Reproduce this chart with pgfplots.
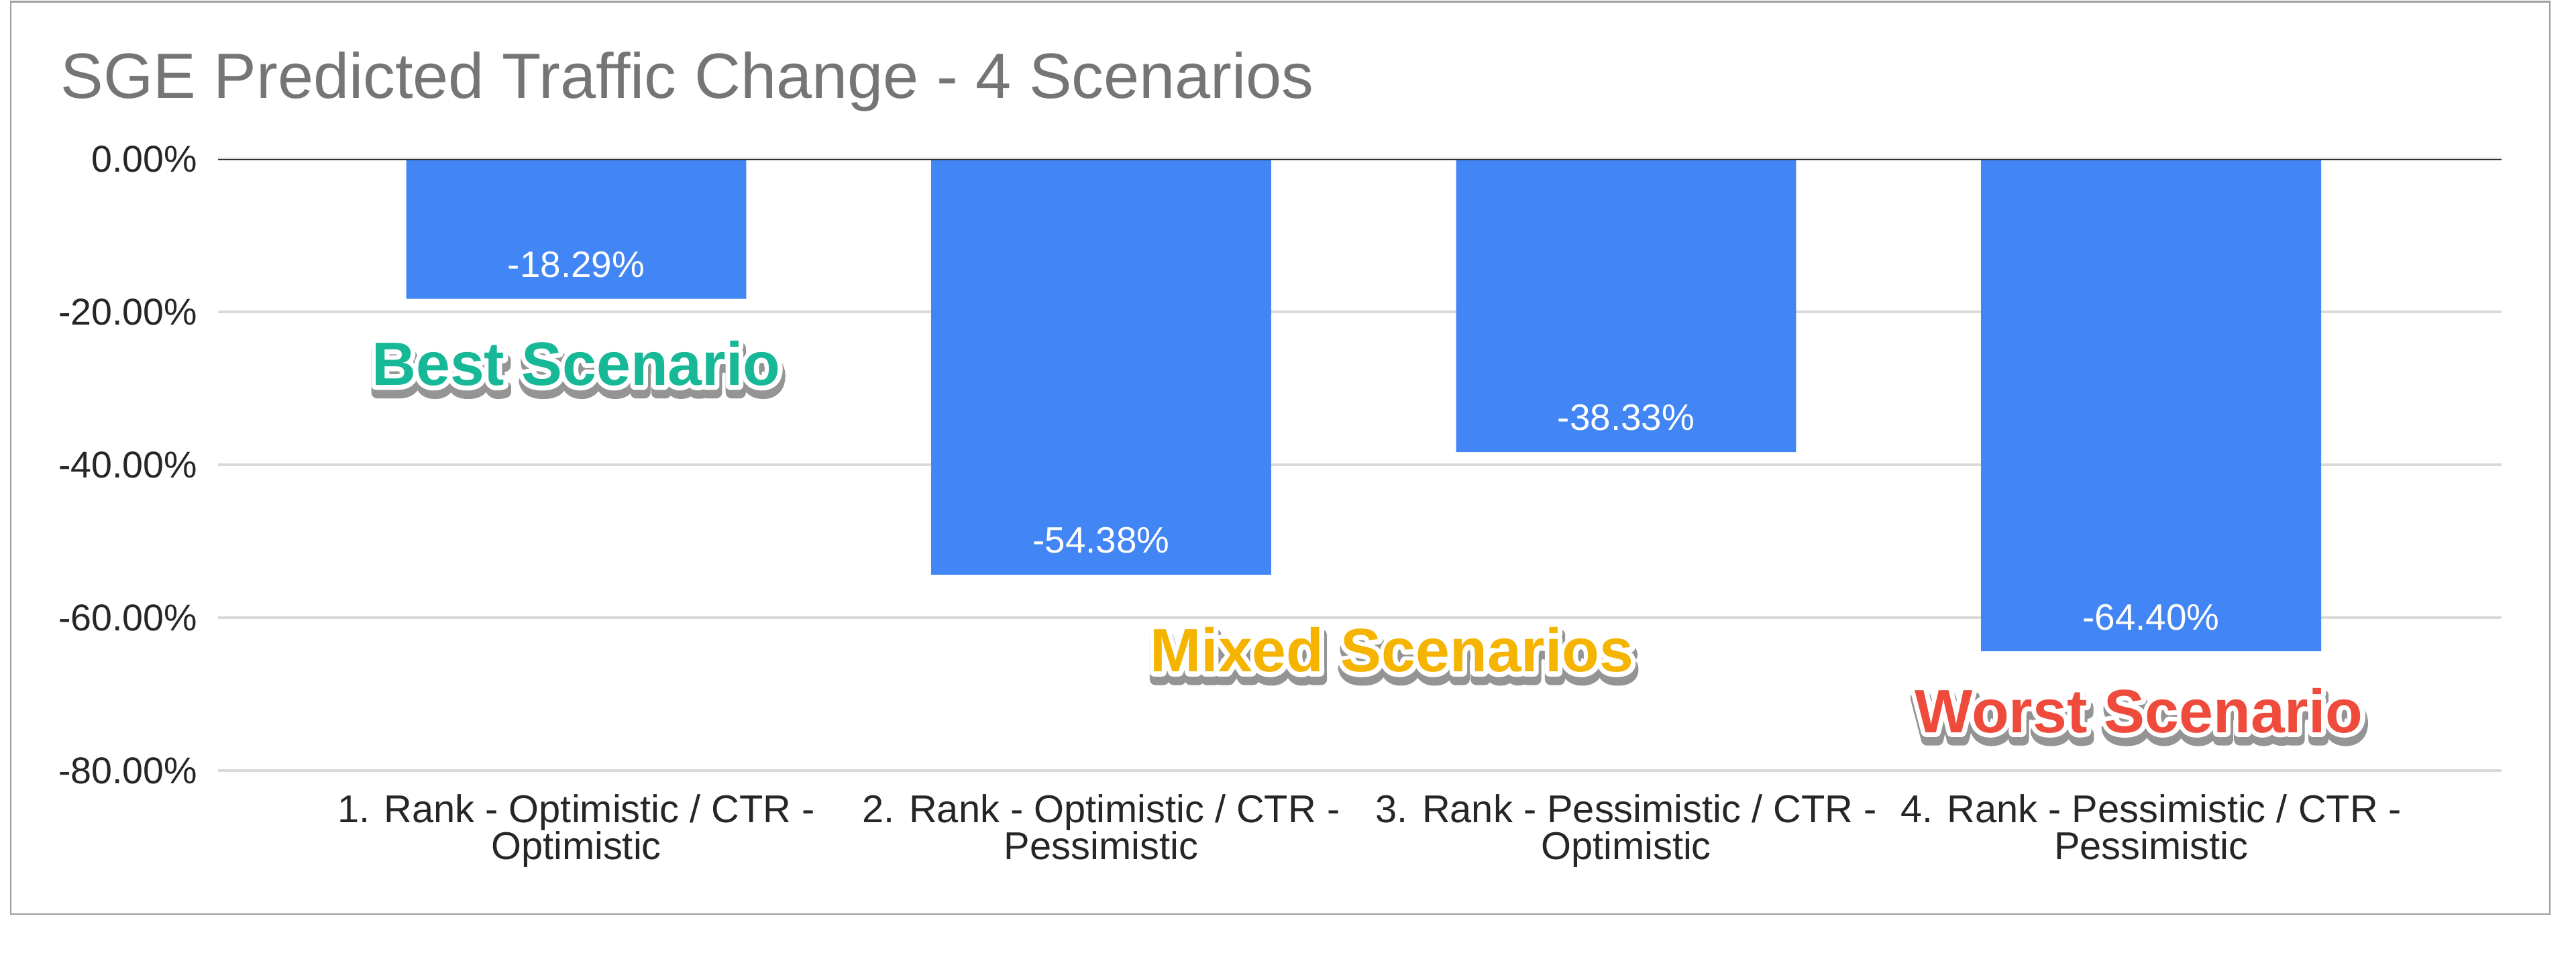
\documentclass[border=0pt]{standalone}
\usepackage{pgfplots}
\pgfplotsset{compat=1.18}
\usepackage{fontspec}
\setmainfont{Liberation Sans}
\definecolor{barblue}{HTML}{4285F4}
\definecolor{titlegray}{HTML}{757575}
\definecolor{gridgray}{HTML}{D9D9D9}
\definecolor{bestc}{HTML}{17B897}
\definecolor{mixedc}{HTML}{F4B400}
\definecolor{worstc}{HTML}{EF4B3C}
\newcommand{\annfont}{\fontsize{18.65}{20}\selectfont\bfseries}
\newcommand{\tickfont}{\fontsize{11.35}{11.2}\selectfont}
\newcommand{\xtickfont}{\fontsize{11.8}{11.2}\selectfont}
\newcommand{\fancylabel}[3]{%
  \node[anchor=base, inner sep=0pt, font=\annfont, text=black!42, shift={(0.4pt,-2.2pt)}] at (#1)
    {\special{pdf:literal direct 2 Tr 1 j 0.58 G 3.6 w}#3\special{pdf:literal direct 0 Tr}};
  \node[anchor=base, inner sep=0pt, font=\annfont, text=white] at (#1)
    {\special{pdf:literal direct 2 Tr 1 j 1 G 2.8 w}#3\special{pdf:literal direct 0 Tr}};
  \node[anchor=base, inner sep=0pt, font=\annfont, text=#2] at (#1) {#3};
}
\begin{document}
\begin{tikzpicture}
\useasboundingbox (0,0) rectangle (784pt,-291.8pt);
\fill[white] (0,0) rectangle (784pt,-291.8pt);
\draw[black!38, line width=0.5pt] (3.3pt,-0.5pt) rectangle (776pt,-278.3pt);
\node[anchor=base west, inner sep=0pt, text=titlegray, font=\fontsize{19.5}{20}\selectfont] at (18.25pt,-30pt) {SGE Predicted Traffic Change - 4 Scenarios};
\begin{axis}[
  at={(66.4pt,-48.4pt)}, anchor=north west,
  scale only axis, width=695pt, height=186.2pt,
  xmin=-0.682, xmax=3.668, ymin=-80, ymax=0,
  axis line style={draw=none},
  major tick length=0pt,
  ymajorgrids, grid style={gridgray, line width=0.7pt},
  xtick={0,1,2,3},
  xticklabels={{1. Rank - Optimistic / CTR -\\Optimistic},{2. Rank - Optimistic / CTR -\\Pessimistic},{3. Rank - Pessimistic / CTR -\\Optimistic},{4. Rank - Pessimistic / CTR -\\Pessimistic}},
  xticklabel style={align=center, anchor=north, inner sep=0pt, yshift=-7.0pt, font=\xtickfont, text=black!85},
  ytick={-80,-60,-40,-20,0},
  yticklabels={-80.00\%,-60.00\%,-40.00\%,-20.00\%,0.00\%},
  yticklabel style={anchor=east, inner sep=0pt, xshift=-6.15pt, font=\tickfont, text=black!85},
]
\addplot[ybar, bar width=0.6476, fill=barblue, draw=none,
  point meta=explicit symbolic, nodes near coords,
  every node near coord/.append style={anchor=center, yshift=10.4pt, text=white, inner sep=0pt, font=\fontsize{11.2}{12}\selectfont}]
  coordinates {(0,-18.29) [-18.29\%] (1,-54.38) [-54.38\%] (2,-38.33) [-38.33\%] (3,-64.40) [-64.40\%]};
\draw[black!80, line width=0.8pt] (rel axis cs:0,1) -- (rel axis cs:1,1);
\coordinate (best) at (axis cs:0,-29.6);
\coordinate (mixed) at (axis cs:1.554,-67.1);
\coordinate (worst) at (axis cs:2.977,-75.0);
\end{axis}
\fancylabel{best}{bestc}{Best Scenario}
\fancylabel{mixed}{mixedc}{Mixed Scenarios}
\fancylabel{worst}{worstc}{Worst Scenario}
\end{tikzpicture}
\end{document}
